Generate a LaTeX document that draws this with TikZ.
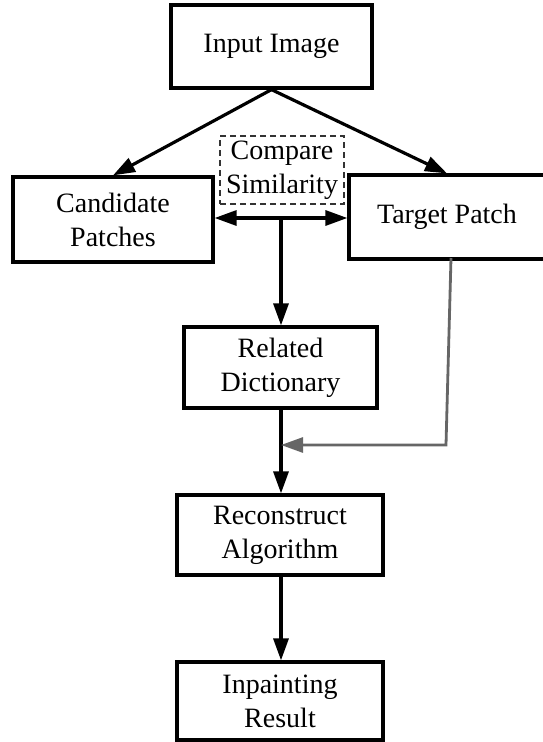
\documentclass[tikz,border=0pt]{standalone}
\usepackage{fontspec}
\setmainfont{Liberation Serif}
\usetikzlibrary{arrows.meta}
\definecolor{feedgray}{HTML}{666666}
\definecolor{dashgray}{HTML}{333333}
\begin{document}
\begin{tikzpicture}[x=1pt,y=-1pt,
  box/.style={draw=black,line width=3.2pt,fill=white,inner sep=0pt,align=center,
    font=\fontsize{28}{34}\selectfont},
  note/.style={draw=dashgray,line width=1.5pt,dash pattern=on 6pt off 4pt,inner sep=0pt,
    align=center,font=\fontsize{28}{34}\selectfont},
  tip/.style={Triangle[length=22pt,width=15pt]},
  flow/.style={line width=3.2pt,-{Triangle[length=22pt,width=15pt]}},
  both/.style={line width=3.2pt,{Triangle[length=22pt,width=15pt]}-{Triangle[length=22pt,width=15pt]}},
  feed/.style={draw=feedgray,line width=2.8pt,-{Triangle[length=22pt,width=15pt]}}]
\useasboundingbox (0,0) rectangle (543,742);

% process boxes
\node[box,minimum width=201pt,minimum height=83pt] (input) at (271.5,46.5) {Input Image};
\node[box,minimum width=200pt,minimum height=85pt] (cand) at (113,219.5) {Candidate\\Patches};
\node[box,minimum width=196pt,minimum height=84pt] (tgt) at (447,217) {Target Patch};
\node[note,minimum width=124pt,minimum height=68pt] (cmp) at (282,170) {Compare\\Similarity};
\node[box,minimum width=193pt,minimum height=81pt] (rel) at (280.5,367.5) {Related\\Dictionary};
\node[box,minimum width=206pt,minimum height=80pt] (rec) at (280,535) {Reconstruct\\Algorithm};
\node[box,minimum width=206pt,minimum height=78pt] (res) at (280,701) {Inpainting\\Result};

% connectors
\draw[flow] (input.south) -- (cand.north);
\draw[flow] (input.south) -- (tgt.north);
\coordinate (mid) at (281,218);
\draw[both] (cand.east |- mid) -- (tgt.west |- mid);
\draw[flow] (mid) -- (mid |- rel.north);
\draw[flow] (rel.south -| mid) -- (rec.north -| mid);
\draw[flow] (rec.south -| mid) -- (res.north -| mid);

% feedback from the target patch
\coordinate (top) at (451,258);
\coordinate (bend) at (446,445);
\draw[feed] (top) -- (bend) -- (bend -| mid);
\end{tikzpicture}
\end{document}
